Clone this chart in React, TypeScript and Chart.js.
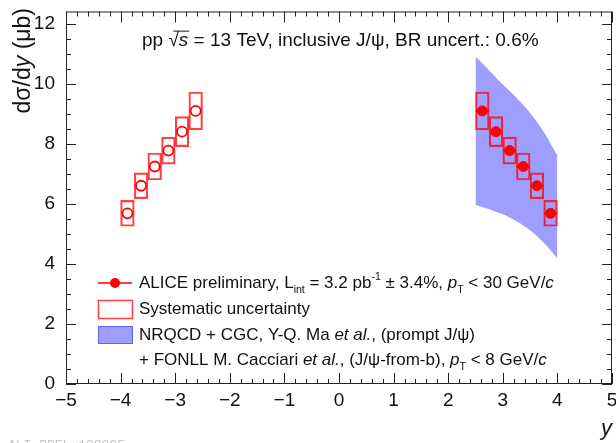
import React, { useEffect, useRef } from 'react';
import { Chart, registerables } from 'chart.js';

Chart.register(...registerables);

const FONT = '"Liberation Sans", Arial, Helvetica, sans-serif';
const RED = '#ff0000';
const BOX_RED = 'rgba(255,0,0,0.75)';
const BAND_BLUE = 'rgb(158,158,255)';
const BAND_EDGE = 'rgb(95,95,255)';
const INK = '#111111';

// Forward-rapidity bins (2.5 < y < 4, width 0.25) and their mirror at negative y
const rapidity = [2.625, 2.875, 3.125, 3.375, 3.625, 3.875];
const mirroredRapidity = [-2.625, -2.875, -3.125, -3.375, -3.625, -3.875];
const binHalfWidth = 0.125;

// dσ/dy in μb and the systematic uncertainty of each bin
const crossSection = [9.09, 8.4, 7.77, 7.24, 6.6, 5.68];
const systUncertainty = [0.63, 0.5, 0.45, 0.45, 0.43, 0.43];

// NRQCD + CGC (+ FONLL) prediction band
const modelRapidity = [2.5, 2.75, 3.0, 3.25, 3.5, 3.75, 4.0];
const modelHigh = [10.9, 10.44, 9.97, 9.53, 9.02, 8.39, 7.61];
const modelLow = [5.97, 5.82, 5.65, 5.42, 5.12, 4.7, 4.18];

// Axis ranges
const xRange = [-5, 5];
const yRange = [0, 12.4];

const fmtTick = (v: number) => (v < 0 ? '\u2212' + Math.abs(v) : String(v));

type Seg = { t: string; it?: boolean; sub?: boolean; sup?: boolean };

function drawRich(ctx: CanvasRenderingContext2D, segs: Seg[], x: number, y: number, size: number) {
  let cx = x;
  const starts: number[] = [];
  for (const s of segs) {
    const small = s.sub || s.sup;
    const sz = small ? size * 0.62 : size;
    ctx.font = `${s.it ? 'italic ' : ''}${sz}px ${FONT}`;
    const dy = s.sub ? size * 0.42 : s.sup ? -size * 0.32 : 0;
    starts.push(cx);
    ctx.fillText(s.t, cx, y + dy);
    cx += ctx.measureText(s.t).width;
  }
  starts.push(cx);
  return starts;
}

// keep the plot frame exactly where the layout padding puts it
const noScalePadding = (s: any) => {
  s.paddingTop = 0;
  s.paddingBottom = 0;
  s.paddingLeft = 0;
  s.paddingRight = 0;
};

const decorations = {
  id: 'decorations',
  afterDatasetsDraw(chart: any) {
    const { ctx, scales } = chart;
    const xs = scales.x;
    const ys = scales.y;
    // horizontal bin-width bars on the measured points
    ctx.save();
    ctx.strokeStyle = RED;
    ctx.lineWidth = 1.5;
    rapidity.forEach((r, i) => {
      const py = ys.getPixelForValue(crossSection[i]);
      ctx.beginPath();
      ctx.moveTo(xs.getPixelForValue(r - binHalfWidth), py);
      ctx.lineTo(xs.getPixelForValue(r + binHalfWidth), py);
      ctx.stroke();
    });
    ctx.restore();
  },
  afterDraw(chart: any) {
    const { ctx, chartArea, scales } = chart;
    const xs = scales.x;
    const ys = scales.y;
    const { left, right, top, bottom } = chartArea;
    ctx.save();

    // frame
    ctx.strokeStyle = '#222';
    ctx.lineWidth = 1;
    ctx.strokeRect(left + 0.5, top + 0.5, right - left - 1, bottom - top - 1);

    // x ticks, bottom and top, pointing inward
    ctx.beginPath();
    for (let k = 0; k <= 50; k++) {
      const v = xRange[0] + k * 0.2;
      const px = Math.round(xs.getPixelForValue(v)) + 0.5;
      const len = k % 5 === 0 ? 11 : 5;
      ctx.moveTo(px, bottom);
      ctx.lineTo(px, bottom - len);
      ctx.moveTo(px, top);
      ctx.lineTo(px, top + len);
    }
    // y ticks, left and right
    for (let k = 0; k * 0.5 <= yRange[1] + 1e-9; k++) {
      const v = k * 0.5;
      const py = Math.round(ys.getPixelForValue(v)) + 0.5;
      const len = k % 4 === 0 ? 10 : 5;
      ctx.moveTo(left, py);
      ctx.lineTo(left + len, py);
      ctx.moveTo(right, py);
      ctx.lineTo(right - len, py);
    }
    ctx.stroke();

    ctx.fillStyle = INK;
    ctx.textBaseline = 'alphabetic';

    // y-axis title
    ctx.save();
    ctx.translate(30, 8);
    ctx.rotate(-Math.PI / 2);
    ctx.textAlign = 'right';
    const ts = 23;
    ctx.font = `${ts}px ${FONT}`;
    const wRest = ctx.measureText(' (\u03bcb)').width;
    ctx.fillText(' (\u03bcb)', 0, 0);
    ctx.font = `italic ${ts}px ${FONT}`;
    const wy = ctx.measureText('y').width;
    ctx.fillText('y', -wRest, 0);
    ctx.font = `${ts}px ${FONT}`;
    ctx.fillText('d\u03c3/d', -wRest - wy, 0);
    ctx.restore();

    // x-axis title
    ctx.textAlign = 'right';
    ctx.font = `italic 22px ${FONT}`;
    ctx.fillText('y', 612, 435);
    ctx.textAlign = 'left';

    // header line
    ctx.textBaseline = 'middle';
    const hs = 19;
    const h = drawRich(
      ctx,
      [
        { t: 'pp ' },
        { t: '\u221a' },
        { t: 's', it: true },
        { t: ' = 13 TeV, inclusive J/\u03c8, BR uncert.: 0.6%' },
      ],
      142,
      41,
      hs
    );
    ctx.strokeStyle = INK;
    ctx.lineWidth = 1;
    ctx.beginPath();
    ctx.moveTo(h[1] + 5, 41 - hs * 0.52);
    ctx.lineTo(h[3] + 1, 41 - hs * 0.52);
    ctx.stroke();

    // legend
    const size = 17;
    const lx0 = 98;
    const lx1 = 132;
    const tx = 139;
    // entry 1: data points
    ctx.strokeStyle = RED;
    ctx.fillStyle = RED;
    ctx.lineWidth = 1.5;
    ctx.beginPath();
    ctx.moveTo(lx0, 283);
    ctx.lineTo(lx1, 283);
    ctx.stroke();
    ctx.beginPath();
    ctx.arc((lx0 + lx1) / 2, 283, 5, 0, Math.PI * 2);
    ctx.fill();
    // entry 2: systematic box
    ctx.strokeStyle = BOX_RED;
    ctx.strokeRect(lx0 + 0.5, 300.5, lx1 - lx0, 18);
    // entry 3: model band
    ctx.fillStyle = BAND_BLUE;
    ctx.fillRect(lx0, 326, lx1 - lx0, 17);
    ctx.strokeStyle = BAND_EDGE;
    ctx.lineWidth = 1;
    ctx.strokeRect(lx0 + 0.5, 326.5, lx1 - lx0, 17);

    ctx.fillStyle = INK;
    drawRich(
      ctx,
      [
        { t: 'ALICE preliminary, L' },
        { t: 'int', sub: true },
        { t: ' = 3.2 pb' },
        { t: '-1', sup: true },
        { t: ' \u00b1 3.4%, ' },
        { t: 'p', it: true },
        { t: 'T', sub: true },
        { t: ' < 30 GeV/' },
        { t: 'c', it: true },
      ],
      tx,
      283,
      size
    );
    drawRich(ctx, [{ t: 'Systematic uncertainty' }], tx, 309, size);
    drawRich(
      ctx,
      [{ t: 'NRQCD + CGC, Y-Q. Ma ' }, { t: 'et al.', it: true }, { t: ', (prompt J/\u03c8)' }],
      tx,
      335,
      size
    );
    drawRich(
      ctx,
      [
        { t: '+ FONLL M. Cacciari ' },
        { t: 'et al.', it: true },
        { t: ', (J/\u03c8-from-b), ' },
        { t: 'p', it: true },
        { t: 'T', sub: true },
        { t: ' < 8 GeV/' },
        { t: 'c', it: true },
      ],
      tx,
      360,
      size
    );

    // figure identifier
    ctx.textBaseline = 'alphabetic';
    ctx.fillStyle = '#c4c4c4';
    ctx.font = `13px "Liberation Mono", "DejaVu Sans Mono", monospace`;
    ctx.fillText('ALI\u2212PREL\u2212108005', 8, 449);

    ctx.restore();
  },
};

export default function App() {
  const canvasRef = useRef<HTMLCanvasElement | null>(null);

  useEffect(() => {
    const canvas = canvasRef.current;
    if (!canvas) return;

    const forwardPoints = rapidity.map((x, i) => ({ x, y: crossSection[i] }));
    const mirroredPoints = mirroredRapidity.map((x, i) => ({ x, y: crossSection[i] }));
    const boxes = [...mirroredRapidity, ...rapidity].map((x, j) => {
      const i = j % rapidity.length;
      return { x, y: [crossSection[i] - systUncertainty[i], crossSection[i] + systUncertainty[i]] };
    });

    const chart = new Chart(canvas, {
      type: 'scatter',
      data: {
        datasets: [
          {
            type: 'line',
            label: 'model upper',
            data: modelRapidity.map((x, i) => ({ x, y: modelHigh[i] })),
            borderColor: 'rgba(0,0,0,0)',
            borderWidth: 1,
            pointRadius: 0,
            backgroundColor: BAND_BLUE,
            fill: '+1',
            tension: 0.35,
            order: 3,
          },
          {
            type: 'line',
            label: 'model lower',
            data: modelRapidity.map((x, i) => ({ x, y: modelLow[i] })),
            borderColor: 'rgba(0,0,0,0)',
            borderWidth: 1,
            pointRadius: 0,
            fill: false,
            tension: 0.35,
            order: 3,
          },
          {
            type: 'bar',
            label: 'systematic',
            data: boxes as any,
            backgroundColor: 'rgba(0,0,0,0)',
            borderColor: BOX_RED,
            borderWidth: 1.5,
            borderSkipped: false,
            barPercentage: 1,
            categoryPercentage: 1,
            order: 2,
          },
          {
            type: 'scatter',
            label: 'ALICE',
            data: forwardPoints,
            pointRadius: 5,
            pointBackgroundColor: RED,
            pointBorderColor: RED,
            pointBorderWidth: 1,
            order: 1,
          },
          {
            type: 'scatter',
            label: 'ALICE mirrored',
            data: mirroredPoints,
            pointRadius: 5,
            pointBackgroundColor: 'rgba(255,255,255,0)',
            pointBorderColor: RED,
            pointBorderWidth: 1.8,
            order: 1,
          },
        ] as any,
      },
      options: {
        responsive: false,
        animation: false,
        layout: { padding: { top: 11.5, right: 4, left: 0, bottom: 0 }, autoPadding: false } as any,
        plugins: { legend: { display: false }, tooltip: { enabled: false } },
        scales: {
          x: {
            type: 'linear',
            min: xRange[0],
            max: xRange[1],
            offset: false,
            grid: { display: false, drawTicks: false },
            border: { display: false },
            ticks: {
              stepSize: 1,
              padding: 5,
              color: INK,
              font: { size: 19, family: FONT },
              maxRotation: 0,
              autoSkip: false,
              callback: (v: any) => fmtTick(Number(v)),
            },
            afterFit: (s: any) => {
              s.height = 59;
              noScalePadding(s);
            },
          },
          y: {
            type: 'linear',
            min: yRange[0],
            max: yRange[1],
            grid: { display: false, drawTicks: false },
            border: { display: false },
            ticks: {
              stepSize: 2,
              includeBounds: false,
              padding: 11,
              color: INK,
              font: { size: 19, family: FONT },
              callback: (v: any) => fmtTick(Number(v)),
            },
            afterFit: (s: any) => {
              s.width = 66;
              noScalePadding(s);
            },
          },
        },
      },
      plugins: [decorations],
    });

    return () => chart.destroy();
  }, []);

  return (
    <div style={{ position: 'absolute', left: 0, top: 0, width: 616, height: 443, background: '#fff' }}>
      <canvas ref={canvasRef} width={616} height={443} style={{ width: 616, height: 443, display: 'block' }} />
    </div>
  );
}
